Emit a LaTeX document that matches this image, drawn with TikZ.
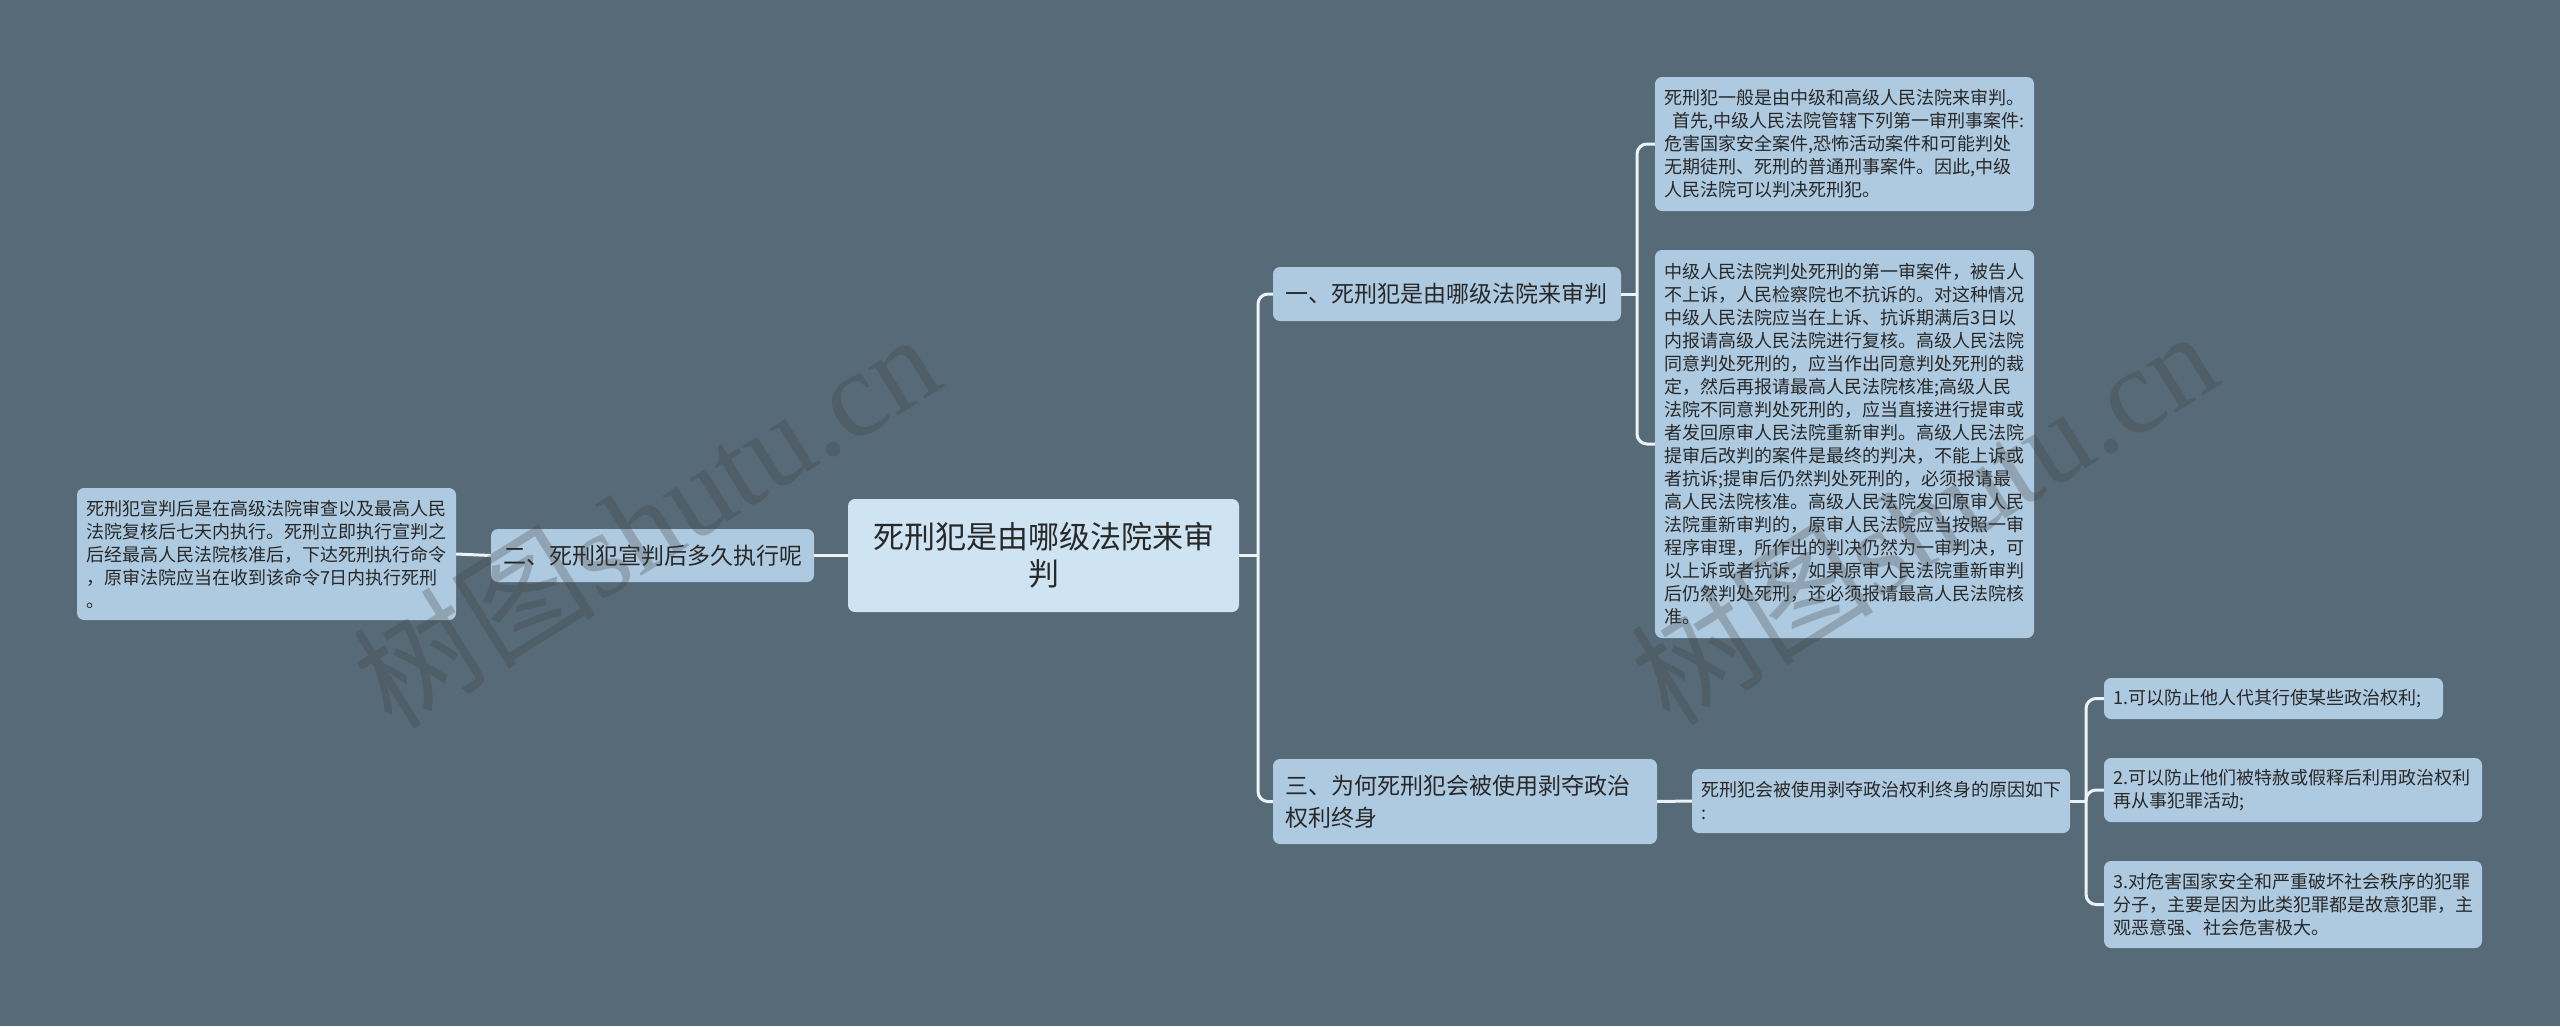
\documentclass[tikz,border=0pt]{standalone}
\usepackage{fontspec}
\setmainfont{Noto Sans CJK SC}
\newfontfamily\wmfont{Liberation Serif}
\usepackage{xcolor}
\usepackage{tikz}
\usetikzlibrary{positioning}
\definecolor{bgslate}{RGB}{87,106,120}
\definecolor{leafblue}{RGB}{174,202,224}
\definecolor{rootblue}{RGB}{206,228,242}
\definecolor{linkwhite}{RGB}{236,242,246}
\definecolor{inkgray}{RGB}{40,40,40}
\tikzset{
  box/.style={rectangle,rounded corners=7pt,fill=leafblue,text=inkgray,inner ysep=0pt,align=left},
  leaf/.style={box,font=\fontsize{18}{23}\selectfont,inner xsep=9pt},
  topic/.style={box,font=\fontsize{23}{32}\selectfont,inner xsep=12pt},
  link/.style={draw=linkwhite,line width=3pt,rounded corners=10pt},
  mark wm/.style={rotate=32,text=black!75,opacity=0.28,font=\fontsize{122}{122}\selectfont}
}
\begin{document}
\begin{tikzpicture}[x=1pt,y=-1pt]
		\useasboundingbox (0,0) rectangle (2560,1026);
		\fill[bgslate] (0,0) rectangle (2560,1026);
		% centre
		\node[box,fill=rootblue,align=center,text width=351pt,inner xsep=20pt,minimum height=113pt,font=\fontsize{31}{37}\selectfont] (root) at (1043.5,555.5) {死刑犯是由哪级法院来审\\判};
		% topics
		\node[topic,text width=324pt,minimum height=54pt] (b1) at (1447,294) {一、死刑犯是由哪级法院来审判};
		\node[topic,text width=299pt,minimum height=53pt] (b2) at (652.5,555.5) {二、死刑犯宣判后多久执行呢};
		\node[topic,text width=360pt,minimum height=85pt] (b3) at (1465,801.5) {三、为何死刑犯会被使用剥夺政治\\权利终身};
		% details
		\node[leaf,text width=361pt,minimum height=134pt] (l1) at (1844.5,144) {死刑犯一般是由中级和高级人民法院来审判。\\\hspace*{8pt}首先,中级人民法院管辖下列第一审刑事案件:\\危害国家安全案件,恐怖活动案件和可能判处\\无期徒刑、死刑的普通刑事案件。因此,中级\\人民法院可以判决死刑犯。};
		\node[leaf,text width=361pt,minimum height=388pt] (l2) at (1844.5,444) {中级人民法院判处死刑的第一审案件，被告人\\不上诉，人民检察院也不抗诉的。对这种情况\\中级人民法院应当在上诉、抗诉期满后3日以\\内报请高级人民法院进行复核。高级人民法院\\同意判处死刑的，应当作出同意判处死刑的裁\\定，然后再报请最高人民法院核准;高级人民\\法院不同意判处死刑的，应当直接进行提审或\\者发回原审人民法院重新审判。高级人民法院\\提审后改判的案件是最终的判决，不能上诉或\\者抗诉;提审后仍然判处死刑的，必须报请最\\高人民法院核准。高级人民法院发回原审人民\\法院重新审判的，原审人民法院应当按照一审\\程序审理，所作出的判决仍然为一审判决，可\\以上诉或者抗诉，如果原审人民法院重新审判\\后仍然判处死刑，还必须报请最高人民法院核\\准。};
		\node[leaf,text width=361pt,minimum height=132pt] (l3) at (266.5,554) {死刑犯宣判后是在高级法院审查以及最高人民\\法院复核后七天内执行。死刑立即执行宣判之\\后经最高人民法院核准后，下达死刑执行命令\\，原审法院应当在收到该命令7日内执行死刑\\。};
		\node[leaf,text width=360pt,minimum height=64pt] (r3) at (1881,801) {死刑犯会被使用剥夺政治权利终身的原因如下\\:};
		\node[leaf,text width=321pt,minimum height=41pt] (i1) at (2273.5,698.5) {1.可以防止他人代其行使某些政治权利;};
		\node[leaf,text width=360pt,minimum height=64pt] (i2) at (2293,790) {2.可以防止他们被特赦或假释后利用政治权利\\再从事犯罪活动;};
		\node[leaf,text width=360pt,minimum height=87pt] (i3) at (2293,904.5) {3.对危害国家安全和严重破坏社会秩序的犯罪\\分子，主要是因为此类犯罪都是故意犯罪，主\\观恶意强、社会危害极大。};
		% links
		\coordinate (rj) at (1258,555.5);
		\coordinate (j1) at (1637,294);
		\coordinate (j3) at (2086,801);
		\draw[link] (root.east) -- (rj);
		\draw[link] (rj) |- (b1.west);
		\draw[link] (rj) |- (b3.west);
		\draw[link] (root.west) -- (b2.east);
		\draw[link] (b2.west) -- (l3.east);
		\draw[link] (b1.east) -- (j1);
		\draw[link] (j1) |- (l1.west);
		\draw[link] (j1) |- (l2.west);
		\draw[link] (b3.east) -- (r3.west);
		\draw[link] (r3.east) -- (j3);
		\draw[link] (j3) |- (i1.west);
		\draw[link] (j3) |- (i2.west);
		\draw[link] (j3) |- (i3.west);
		% watermark
		\node[mark wm] (wm1) at (645,519) {树图{\wmfont shutu.cn}};
		\node[mark wm] (wm2) at (1923,516) {树图{\wmfont shutu.cn}};
	\end{tikzpicture}
\end{document}
